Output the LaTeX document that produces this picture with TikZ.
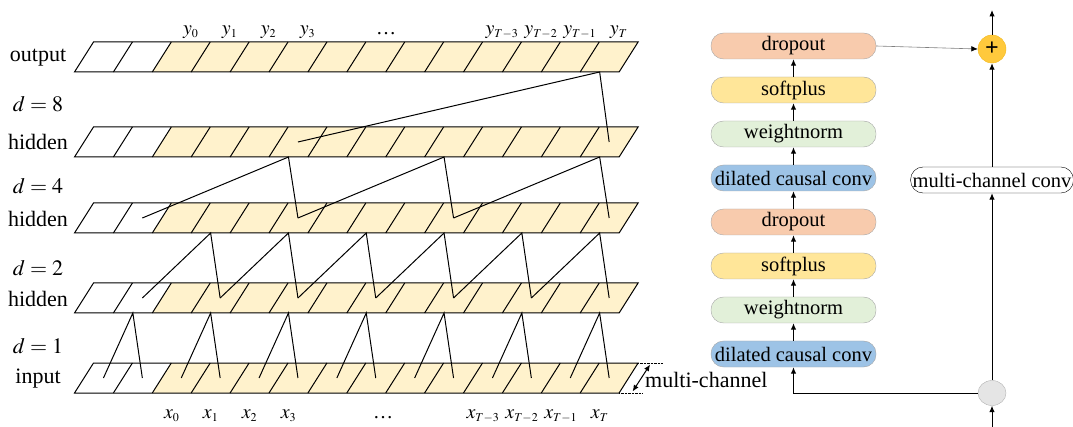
\documentclass[tikz,border=0pt]{standalone}
\usepackage{mathptmx}
\usepackage[no-math]{fontspec}
\setmainfont{Liberation Serif}
\usetikzlibrary{positioning,arrows.meta,shapes.geometric}

\definecolor{zelle}{HTML}{FFF2CC}
\definecolor{dropfarbe}{HTML}{F8CBAD}
\definecolor{softfarbe}{HTML}{FFE699}
\definecolor{normfarbe}{HTML}{E2F0D9}
\definecolor{konvfarbe}{HTML}{9DC3E6}
\definecolor{plusfarbe}{HTML}{FFC93C}
\definecolor{plusrand}{HTML}{F2B81C}

\newcommand{\tief}[1]{_{\scriptscriptstyle #1}}

\begin{document}
\begin{tikzpicture}[x=1pt, y=-1pt, >={Latex[length=6.5pt,width=5.5pt]},
    blk/.style={draw=gray!70, rounded corners=12.5pt, minimum width=165pt,
        minimum height=26pt, inner sep=1pt, font=\fontsize{20.5}{22}\selectfont},
    pfeil/.style={->, line width=1pt},
    lab/.style={font=\fontsize{22}{24}\selectfont},
    idx/.style={font=\fontsize{20}{24}\selectfont, anchor=base, inner sep=0pt}]

    \useasboundingbox (0,0) rectangle (1073,427);

    % Geometrie der Zeilen
    \pgfmathsetmacro{\xL}{74.5}
    \pgfmathsetmacro{\sl}{19}
    \pgfmathsetmacro{\cw}{38.9}

    % Zeilen: 0 = input, 1..3 = hidden, 4 = output
    \foreach \nr/\yT in {0/363, 1/283, 2/203, 3/127, 4/42} {
            \pgfmathsetmacro{\yB}{\yT+30}
            % gelbe Zellen ab der dritten
            \fill[zelle] ({\xL+2*\cw}, \yB) -- ({\xL+2*\cw+\sl}, \yT)
            -- ({\xL+14*\cw+\sl}, \yT) -- ({\xL+14*\cw}, \yB) -- cycle;
            % Rahmen und Trennlinien
            \draw[line width=1pt] (\xL, \yB) -- ({\xL+\sl}, \yT)
            -- ({\xL+14*\cw+\sl}, \yT) -- ({\xL+14*\cw}, \yB) -- cycle;
            \foreach \kk in {1,...,13}
            \draw[line width=1pt] ({\xL+\kk*\cw}, \yB) -- ({\xL+\kk*\cw+\sl}, \yT);
            % Hilfspunkte: Mitte, Unterkante, Oberkante jeder Zelle
            \foreach \kk in {1,...,14} {
                    \coordinate (r\nr-m\kk) at ({\xL+(\kk-0.5)*\cw+\sl/2}, {\yT+15});
                    \coordinate (r\nr-b\kk) at ({\xL+(\kk-0.5)*\cw}, \yB);
                    \coordinate (r\nr-t\kk) at ({\xL+(\kk-0.5)*\cw+\sl}, \yT);
                }
            \coordinate (r\nr-ne) at ({\xL+14*\cw+\sl}, \yT);
            \coordinate (r\nr-se) at ({\xL+14*\cw}, \yB);
        }

    % Verbindungen, d = 1
    \foreach \kk [evaluate=\kk as \kp using int(\kk-1)] in {2,4,...,14}
    \draw[line width=1pt] (r0-m\kp) -- (r1-b\kk) -- (r0-m\kk);
    % d = 2
    \foreach \kk [evaluate=\kk as \kp using int(\kk-2)] in {4,6,...,14}
    \draw[line width=1pt] (r1-m\kp) -- (r2-b\kk) -- (r1-m\kk);
    % d = 4
    \foreach \kk [evaluate=\kk as \kp using int(\kk-4)] in {6,10,14}
    \draw[line width=1pt] (r2-m\kp) -- (r3-b\kk) -- (r2-m\kk);
    % d = 8
    \draw[line width=1pt] (r3-m6) -- (r4-b14) -- (r3-m14);

    % Beschriftung links
    \node[lab] (lout) at (38,58) {output};
    \node[lab] (ld8) at (38,104) {$d=8$};
    \node[lab] (lh3) at (38,142) {hidden};
    \node[lab] (ld4) at (38,186) {$d=4$};
    \node[lab] (lh2) at (38,219) {hidden};
    \node[lab] (ld2) at (38,268) {$d=2$};
    \node[lab] (lh1) at (38,299) {hidden};
    \node[lab] (ld1) at (38,346) {$d=1$};
    \node[lab] (lin) at (38,379) {input};

    % Ausgaben oben
    \foreach \kk/\txt in {3/0, 4/1, 5/2, 6/3, 11/T-3, 12/T-2, 13/T-1, 14/T}
    \node[idx] (ly\kk) at (r4-t\kk |- 0,35) {$y\tief{\txt}$};
    \node[idx] (lydots) at (386,35) {\dots};

    % Eingaben unten
    \foreach \kk/\txt in {3/0, 4/1, 5/2, 6/3, 11/T-3, 12/T-2, 13/T-1, 14/T}
    \node[idx] (lx\kk) at (r0-b\kk |- 0,418) {$x\tief{\txt}$};
    \node[idx] (lxdots) at (383,418) {\dots};

    % multi-channel
    \draw[densely dotted] (r0-ne) -- ++(25,0);
    \draw[densely dotted] (r0-se) -- ++(23,0);
    \draw[<->, line width=1pt] ([shift={(12,1.5)}]r0-ne) -- ([shift={(13.5,-1.5)}]r0-se);
    \node[lab, anchor=west, inner sep=0pt] (lmc) at (645,380) {multi-channel};

    % Block rechts
    \node[blk, fill=konvfarbe] (conv1) at (793.5,354) {dilated causal conv};
    \node[blk, fill=normfarbe, above=17.6pt of conv1] (norm1) {weightnorm};
    \node[blk, fill=softfarbe, above=17.6pt of norm1] (soft1) {softplus};
    \node[blk, fill=dropfarbe, above=17.6pt of soft1] (drop1) {dropout};
    \node[blk, fill=konvfarbe, above=17.6pt of drop1] (conv2) {dilated causal conv};
    \node[blk, fill=normfarbe, above=17.6pt of conv2] (norm2) {weightnorm};
    \node[blk, fill=softfarbe, above=17.6pt of norm2] (soft2) {softplus};
    \node[blk, fill=dropfarbe, above=17.6pt of soft2] (drop2) {dropout};

    \foreach \von/\nach in {conv1/norm1, norm1/soft1, soft1/drop1, drop1/conv2,
            conv2/norm2, norm2/soft2, soft2/drop2}
    \draw[pfeil] (\von) -- (\nach);

    % Residualzweig
    \node[circle, fill=plusfarbe, draw=plusrand, minimum size=28pt, inner sep=0pt,
        font=\fontsize{24}{24}\selectfont\bfseries] (plus) at (992,49) {+};
    \node[blk, fill=white, draw=black, minimum width=162pt, inner xsep=2pt] (mcconv) at (992,180) {multi-channel conv};
    \node[ellipse, fill=gray!20, draw=gray!60, minimum width=28pt, minimum height=25pt,
        inner sep=0pt] (split) at (992,393) {};
    \coordinate (oben) at (992,10);
    \coordinate (unten) at (992,427);

    \draw[pfeil] (unten) -- (split);
    \draw[pfeil] (split) -- (mcconv);
    \draw[pfeil] (mcconv) -- (plus);
    \draw[pfeil] (plus) -- (oben);
    \draw[pfeil] (split.west) -| (conv1.south);
    \draw[gray, line width=0.6pt, -{Latex[length=6.5pt,width=5.5pt,color=black]}] (drop2.east) -- (plus.west);

\end{tikzpicture}
\end{document}
